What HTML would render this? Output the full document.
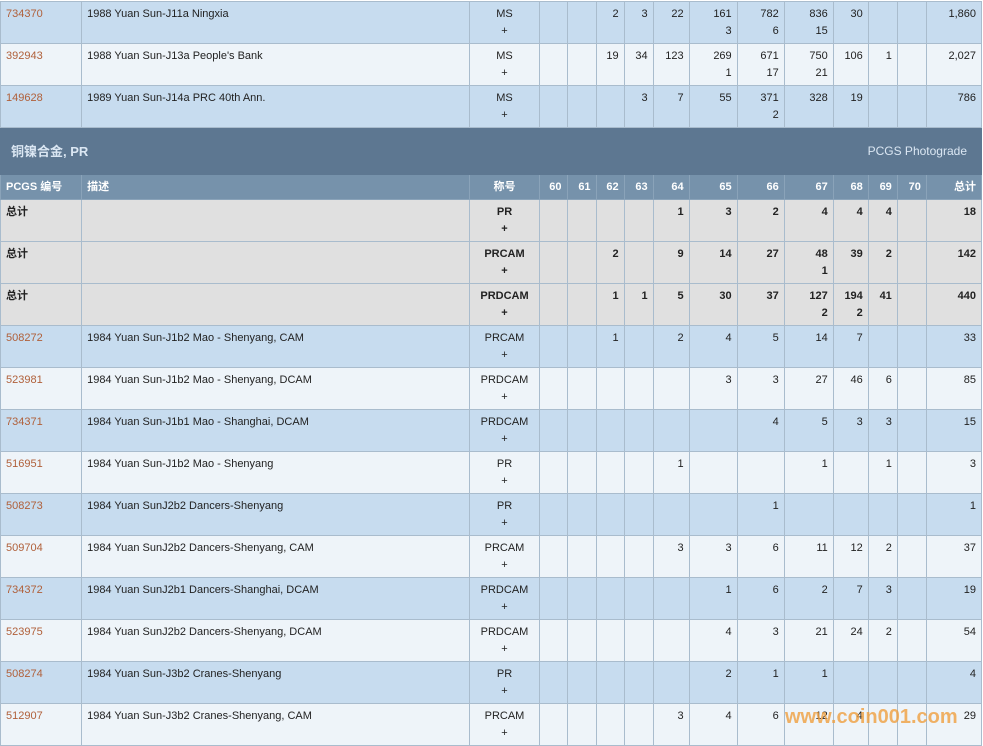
<!DOCTYPE html>
<html><head><meta charset="utf-8"><style>
body{margin:0;background:#fff;width:983px;height:746px;overflow:hidden;position:relative;font-family:"Liberation Sans","Noto Sans CJK SC",sans-serif;font-size:11px;color:#222}
table{position:absolute;left:0;top:1px;border-collapse:collapse;table-layout:fixed;width:982px}
td{border:1px solid #a9bccd;padding:4px 5px 0 5px;vertical-align:top;line-height:17px;height:37px;text-align:right;white-space:nowrap;overflow:hidden}
td:nth-child(1),td:nth-child(2){text-align:left}
td:nth-child(3){text-align:center}
tr.b td{background:#c7dcef}
tr.l td{background:#eef4f9}
tr.t td{background:#e0e0e0;font-weight:bold}
a{color:#b0603a;text-decoration:none}
tr.sec td{background:#5d7791;color:#dbe7f3;height:46px;vertical-align:middle;padding:0 14px 0 10px;font-size:13px;border-color:#5d7791}
tr.hd td{background:#7692ab;color:#fff;font-weight:bold;height:24px;padding:0 5px;vertical-align:middle;line-height:24px;border-color:#8aa3b9}
.wm{position:absolute;left:785px;top:706px;font:bold 20px "Liberation Sans",sans-serif;color:#f0a040;opacity:.8}
</style></head><body>
<table>
<colgroup><col style="width:81px"><col style="width:388px"><col style="width:69px"><col style="width:28px"><col style="width:29px"><col style="width:28px"><col style="width:29px"><col style="width:36px"><col style="width:48px"><col style="width:47px"><col style="width:49px"><col style="width:35px"><col style="width:29px"><col style="width:29px"><col style="width:55px"></colgroup>
<tr class="b"><td><a>734370</a></td><td>1988 Yuan Sun-J11a Ningxia</td><td>MS<br>+</td><td></td><td></td><td>2</td><td>3</td><td>22</td><td>161<br>3</td><td>782<br>6</td><td>836<br>15</td><td>30</td><td></td><td></td><td>1,860</td></tr>
<tr class="l"><td><a>392943</a></td><td>1988 Yuan Sun-J13a People's Bank</td><td>MS<br>+</td><td></td><td></td><td>19</td><td>34</td><td>123</td><td>269<br>1</td><td>671<br>17</td><td>750<br>21</td><td>106</td><td>1</td><td></td><td>2,027</td></tr>
<tr class="b"><td><a>149628</a></td><td>1989 Yuan Sun-J14a PRC 40th Ann.</td><td>MS<br>+</td><td></td><td></td><td></td><td>3</td><td>7</td><td>55</td><td>371<br>2</td><td>328</td><td>19</td><td></td><td></td><td>786</td></tr>
<tr class="sec"><td colspan="8" style="text-align:left;font-weight:bold">铜镍合金, PR</td><td colspan="7" style="text-align:right;font-size:12px">PCGS Photograde</td></tr>
<tr class="hd"><td>PCGS 编号</td><td>描述</td><td>称号</td><td>60</td><td>61</td><td>62</td><td>63</td><td>64</td><td>65</td><td>66</td><td>67</td><td>68</td><td>69</td><td>70</td><td>总计</td></tr>
<tr class="t"><td>总计</td><td></td><td>PR<br>+</td><td></td><td></td><td></td><td></td><td>1</td><td>3</td><td>2</td><td>4</td><td>4</td><td>4</td><td></td><td>18</td></tr>
<tr class="t"><td>总计</td><td></td><td>PRCAM<br>+</td><td></td><td></td><td>2</td><td></td><td>9</td><td>14</td><td>27</td><td>48<br>1</td><td>39</td><td>2</td><td></td><td>142</td></tr>
<tr class="t"><td>总计</td><td></td><td>PRDCAM<br>+</td><td></td><td></td><td>1</td><td>1</td><td>5</td><td>30</td><td>37</td><td>127<br>2</td><td>194<br>2</td><td>41</td><td></td><td>440</td></tr>
<tr class="b"><td><a>508272</a></td><td>1984 Yuan Sun-J1b2 Mao - Shenyang, CAM</td><td>PRCAM<br>+</td><td></td><td></td><td>1</td><td></td><td>2</td><td>4</td><td>5</td><td>14</td><td>7</td><td></td><td></td><td>33</td></tr>
<tr class="l"><td><a>523981</a></td><td>1984 Yuan Sun-J1b2 Mao - Shenyang, DCAM</td><td>PRDCAM<br>+</td><td></td><td></td><td></td><td></td><td></td><td>3</td><td>3</td><td>27</td><td>46</td><td>6</td><td></td><td>85</td></tr>
<tr class="b"><td><a>734371</a></td><td>1984 Yuan Sun-J1b1 Mao - Shanghai, DCAM</td><td>PRDCAM<br>+</td><td></td><td></td><td></td><td></td><td></td><td></td><td>4</td><td>5</td><td>3</td><td>3</td><td></td><td>15</td></tr>
<tr class="l"><td><a>516951</a></td><td>1984 Yuan Sun-J1b2 Mao - Shenyang</td><td>PR<br>+</td><td></td><td></td><td></td><td></td><td>1</td><td></td><td></td><td>1</td><td></td><td>1</td><td></td><td>3</td></tr>
<tr class="b"><td><a>508273</a></td><td>1984 Yuan SunJ2b2 Dancers-Shenyang</td><td>PR<br>+</td><td></td><td></td><td></td><td></td><td></td><td></td><td>1</td><td></td><td></td><td></td><td></td><td>1</td></tr>
<tr class="l"><td><a>509704</a></td><td>1984 Yuan SunJ2b2 Dancers-Shenyang, CAM</td><td>PRCAM<br>+</td><td></td><td></td><td></td><td></td><td>3</td><td>3</td><td>6</td><td>11</td><td>12</td><td>2</td><td></td><td>37</td></tr>
<tr class="b"><td><a>734372</a></td><td>1984 Yuan SunJ2b1 Dancers-Shanghai, DCAM</td><td>PRDCAM<br>+</td><td></td><td></td><td></td><td></td><td></td><td>1</td><td>6</td><td>2</td><td>7</td><td>3</td><td></td><td>19</td></tr>
<tr class="l"><td><a>523975</a></td><td>1984 Yuan SunJ2b2 Dancers-Shenyang, DCAM</td><td>PRDCAM<br>+</td><td></td><td></td><td></td><td></td><td></td><td>4</td><td>3</td><td>21</td><td>24</td><td>2</td><td></td><td>54</td></tr>
<tr class="b"><td><a>508274</a></td><td>1984 Yuan Sun-J3b2 Cranes-Shenyang</td><td>PR<br>+</td><td></td><td></td><td></td><td></td><td></td><td>2</td><td>1</td><td>1</td><td></td><td></td><td></td><td>4</td></tr>
<tr class="l"><td><a>512907</a></td><td>1984 Yuan Sun-J3b2 Cranes-Shenyang, CAM</td><td>PRCAM<br>+</td><td></td><td></td><td></td><td></td><td>3</td><td>4</td><td>6</td><td>12</td><td>4</td><td></td><td></td><td>29</td></tr>
</table>
<div class="wm">www.coin001.com</div>
</body></html>
